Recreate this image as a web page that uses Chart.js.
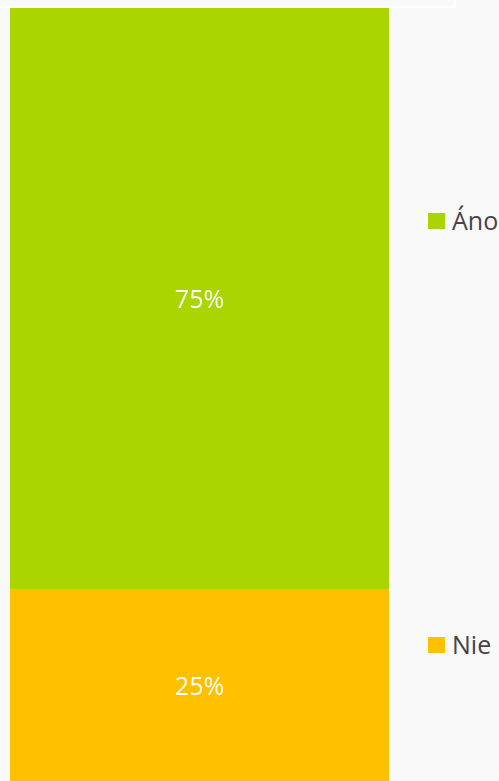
<!DOCTYPE html>
<html>
<head>
<meta charset="utf-8">
<script src="https://cdn.jsdelivr.net/npm/chart.js@4"></script>
<style>
  html, body { margin: 0; padding: 0; background: #f9f9f9; overflow: hidden; width: 499px; height: 781px; }
  #frame { position: absolute; left: -10px; top: -60px; width: 462px; height: 64px; border: 2px solid #ffffff; }
  #wrap { position: absolute; left: 10px; top: 8px; width: 379px; height: 775px; }
  .leg { position: absolute; left: 428px; font-family: "Open Sans", sans-serif; font-size: 25px; color: #444; line-height: 25px; white-space: nowrap; }
  .leg span { display: inline-block; width: 17px; height: 16px; margin-right: 7px; vertical-align: 1px; }
</style>
</head>
<body>
<div id="frame"></div>
<div id="wrap"><canvas id="graf"></canvas></div>
<div id="legenda"></div>
<script>
// Dados do gráfico
const categorias = [''];
const series = ['Nie', 'Áno'];
const valores = [[25], [75]];
const cores = ['#ffc000', '#aad500'];
const legendaTopo = { 'Áno': 208, 'Nie': 632 };

// Rótulos de porcentagem no centro de cada segmento
const rotulos = {
    id: 'rotulos',
    afterDatasetsDraw(chart) {
        const ctx = chart.ctx;
        ctx.save();
        ctx.fillStyle = '#ffffff';
        ctx.font = '25px "Open Sans", sans-serif';
        ctx.textAlign = 'center';
        ctx.textBaseline = 'middle';
        chart.data.datasets.forEach((ds, i) => {
            chart.getDatasetMeta(i).data.forEach((bar, j) => {
                const p = bar.getProps(['x', 'y', 'base'], true);
                ctx.fillText(ds.data[j] + '%', p.x, (p.y + p.base) / 2 + 2);
            });
        });
        ctx.restore();
    }
};

new Chart(document.getElementById('graf'), {
    type: 'bar',
    data: {
        labels: categorias,
        datasets: series.map((s, i) => ({
            label: s,
            data: valores[i],
            backgroundColor: cores[i],
            borderWidth: 0,
            barPercentage: 1,
            categoryPercentage: 1
        }))
    },
    options: {
        responsive: true,
        maintainAspectRatio: false,
        animation: false,
        layout: { padding: 0 },
        scales: {
            x: { stacked: true, display: false },
            y: { stacked: true, display: false, min: 0, max: 100 }
        },
        plugins: {
            legend: { display: false },
            tooltip: { enabled: false }
        }
    },
    plugins: [rotulos]
});

// Legenda à direita
const legenda = document.getElementById('legenda');
['Áno', 'Nie'].forEach(nome => {
    const i = series.indexOf(nome);
    const div = document.createElement('div');
    div.className = 'leg';
    div.style.top = legendaTopo[nome] + 'px';
    div.innerHTML = '<span style="background:' + cores[i] + '"></span>' + nome;
    legenda.appendChild(div);
});
</script>
</body>
</html>
